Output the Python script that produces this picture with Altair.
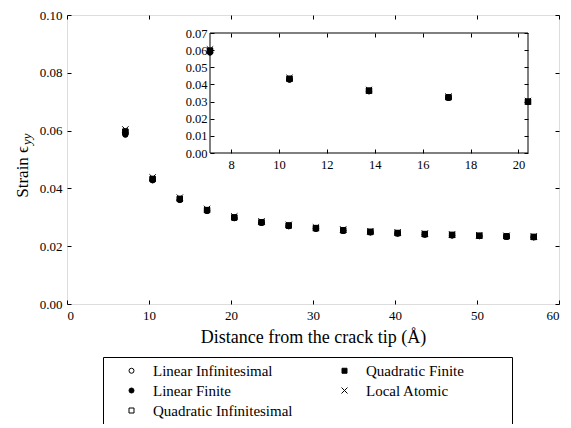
import altair as alt
import pandas as pd

# ---------------- data ----------------
X = [7.12, 10.44, 13.76, 17.08, 20.40, 23.72, 27.04, 30.36, 33.68, 37.00,
     40.32, 43.64, 46.96, 50.28, 53.60, 56.92]
LIN_INF = [0.0588, 0.0429, 0.0361, 0.0323, 0.0298, 0.0281, 0.0270, 0.0261,
           0.0254, 0.0248, 0.0244, 0.0241, 0.0238, 0.0235, 0.0233, 0.0231]
LIN_FIN = [0.0586, 0.0428, 0.0360, 0.0322, 0.0297, 0.0281, 0.0269, 0.0260,
           0.0253, 0.0248, 0.0244, 0.0240, 0.0237, 0.0235, 0.0233, 0.0231]
QUAD_INF = [0.0597, 0.0433, 0.0364, 0.0325, 0.0300, 0.0283, 0.0272, 0.0263,
            0.0255, 0.0250, 0.0246, 0.0242, 0.0239, 0.0236, 0.0234, 0.0232]
QUAD_FIN = [0.0596, 0.0432, 0.0363, 0.0325, 0.0299, 0.0283, 0.0271, 0.0262,
            0.0255, 0.0249, 0.0245, 0.0242, 0.0239, 0.0236, 0.0234, 0.0232]
LOCAL = [0.0604, 0.0438, 0.0368, 0.0329, 0.0303, 0.0286, 0.0274, 0.0265,
         0.0258, 0.0252, 0.0248, 0.0244, 0.0241, 0.0238, 0.0236, 0.0234]

SERIES = ["Linear Infinitesimal", "Linear Finite", "Quadratic Infinitesimal",
          "Quadratic Finite", "Local Atomic"]
VALUES = [LIN_INF, LIN_FIN, QUAD_INF, QUAD_FIN, LOCAL]
SHAPES = ["circle", "circle", "square", "square", "M-1.2,-1.2L1.2,1.2M-1.2,1.2L1.2,-1.2"]
FILLS = ["transparent", "black", "transparent", "black", "transparent"]
STROKES = ["black", "black", "black", "black", "black"]

MAIN_X_TICKS = [0, 10, 20, 30, 40, 50, 60]
MAIN_Y_TICKS = [0.00, 0.02, 0.04, 0.06, 0.08, 0.10]
INSET_N = 5
INSET_X_TICKS = [8, 10, 12, 14, 16, 18, 20]
INSET_Y_TICKS = [0.00, 0.01, 0.02, 0.03, 0.04, 0.05, 0.06, 0.07]

X_TITLE = "Distance from the crack tip (Å)"
Y_TITLE = "Strain ϵ"
Y_TITLE_SUB = "yy"

# ---------------- layout ----------------
W, H = 492, 289
INSET_L, INSET_R = 143, 461
INSET_T, INSET_B = 18, 138
FONT = "Liberation Serif"
TICK = 4

rows = []
for name, vals in zip(SERIES, VALUES):
    for i, (x, y) in enumerate(zip(X, vals)):
        rows.append({"series": name, "x": x, "y": y, "i": i})
df = pd.DataFrame(rows)
inset_df = df[df["i"] < INSET_N].reset_index(drop=True)
frame_df = pd.DataFrame({"x": [X[0]], "x2": [X[INSET_N - 1]],
                         "y": [INSET_Y_TICKS[0]], "y2": [INSET_Y_TICKS[-1]]})

label_axis = dict(grid=False, domain=False, ticks=False, tickSize=0,
                  labelFont=FONT, labelColor="black")
tick_axis = dict(grid=False, domain=False, labels=False, ticks=True, tickSize=TICK,
                 tickColor="black", tickWidth=1, title=None)

# invisible (white) spacer title on the right widens the legend box like the reference
leg = alt.Legend(title=".", titleOrient="right", titleColor="white", titleFont=FONT,
                 titleFontSize=15, titlePadding=38,
                 orient="none", legendX=36, legendY=342, columns=2,
                 labelFont=FONT, labelFontSize=15, labelColor="black",
                 strokeColor="black", fillColor="white", padding=6,
                 symbolOffset=15, labelOffset=14, columnPadding=29, rowPadding=4,
                 symbolStrokeWidth=1, symbolSize=25)


def style_encodings(legend):
    return dict(
        shape=alt.Shape("series:N", legend=legend, scale=alt.Scale(domain=SERIES, range=SHAPES)),
        fill=alt.Fill("series:N", legend=legend, scale=alt.Scale(domain=SERIES, range=FILLS)),
        stroke=alt.Stroke("series:N", legend=legend, scale=alt.Scale(domain=SERIES, range=STROKES)),
    )


main_xscale = alt.Scale(domain=[MAIN_X_TICKS[0], MAIN_X_TICKS[-1]], nice=False, zero=False)
main_yscale = alt.Scale(domain=[MAIN_Y_TICKS[0], MAIN_Y_TICKS[-1]], nice=False, zero=False)

main_pts = alt.Chart(df).mark_point(size=28, strokeWidth=1, opacity=1).encode(
    x=alt.X("x:Q", scale=main_xscale,
            axis=alt.Axis(orient="bottom", values=MAIN_X_TICKS, format="d",
                          labelPadding=5, labelFontSize=13, title=X_TITLE,
                          titleFont=FONT, titleFontSize=18, titleFontWeight="normal",
                          titleColor="black", titlePadding=6, **label_axis)),
    y=alt.Y("y:Q", scale=main_yscale,
            axis=alt.Axis(orient="left", values=MAIN_Y_TICKS, format=".2f",
                          labelPadding=5, labelFontSize=13, title=None, **label_axis)),
    **style_encodings(leg),
)

# inward ticks of the main frame: axes placed on the opposite side
main_t1 = alt.Chart(df).mark_point(opacity=0).encode(
    x=alt.X("x:Q", scale=main_xscale,
            axis=alt.Axis(orient="top", values=MAIN_X_TICKS, offset=-H, **tick_axis)),
    y=alt.Y("y:Q", scale=main_yscale,
            axis=alt.Axis(orient="right", values=MAIN_Y_TICKS, offset=-W, **tick_axis)),
)
main_t2 = alt.Chart(df).mark_point(opacity=0).encode(
    x=alt.X("x:Q", scale=main_xscale,
            axis=alt.Axis(orient="bottom", values=MAIN_X_TICKS, offset=-H, **tick_axis)),
    y=alt.Y("y:Q", scale=main_yscale,
            axis=alt.Axis(orient="left", values=MAIN_Y_TICKS, offset=-W, **tick_axis)),
)

in_xscale = alt.Scale(domain=[X[0], X[INSET_N - 1]], range=[INSET_L, INSET_R],
                      nice=False, zero=False)
in_yscale = alt.Scale(domain=[INSET_Y_TICKS[0], INSET_Y_TICKS[-1]], range=[INSET_B, INSET_T],
                      nice=False, zero=False)

inset_frame = alt.Chart(frame_df).mark_rect(fill="white", stroke="black", strokeWidth=1).encode(
    x=alt.X("x:Q", scale=in_xscale,
            axis=alt.Axis(orient="top", values=INSET_X_TICKS, offset=-INSET_B, zindex=1, **tick_axis)),
    x2="x2:Q",
    y=alt.Y("y:Q", scale=in_yscale,
            axis=alt.Axis(orient="right", values=INSET_Y_TICKS, offset=INSET_L - W, zindex=1, **tick_axis)),
    y2="y2:Q",
)
inset_t2 = alt.Chart(frame_df).mark_rect(opacity=0).encode(
    x=alt.X("x:Q", scale=in_xscale,
            axis=alt.Axis(orient="bottom", values=INSET_X_TICKS, offset=INSET_T - H, zindex=1, **tick_axis)),
    x2="x2:Q",
    y=alt.Y("y:Q", scale=in_yscale,
            axis=alt.Axis(orient="left", values=INSET_Y_TICKS, offset=-INSET_R, zindex=1, **tick_axis)),
    y2="y2:Q",
)

inset_pts = alt.Chart(inset_df).mark_point(size=28, strokeWidth=1, opacity=1).encode(
    x=alt.X("x:Q", scale=in_xscale,
            axis=alt.Axis(orient="bottom", values=INSET_X_TICKS, format="d",
                          offset=INSET_B - H, labelPadding=5, labelFontSize=12.5,
                          zindex=1, title=None, **label_axis)),
    y=alt.Y("y:Q", scale=in_yscale,
            axis=alt.Axis(orient="left", values=INSET_Y_TICKS, format=".2f",
                          offset=-INSET_L, labelPadding=3, labelFontSize=12.5,
                          zindex=1, title=None, **label_axis)),
    **style_encodings(None),
)

ytitle = alt.Chart(pd.DataFrame({"t": [Y_TITLE]})).mark_text(
    angle=270, align="right", baseline="alphabetic", font=FONT, fontSize=17, color="black"
).encode(text="t:N", x=alt.value(-39), y=alt.value(131))

ytitle_sub = alt.Chart(pd.DataFrame({"t": [Y_TITLE_SUB]})).mark_text(
    angle=270, align="left", baseline="alphabetic", font=FONT, fontSize=13,
    fontStyle="italic", color="black", dx=1, dy=3
).encode(text="t:N", x=alt.value(-39), y=alt.value(131))

chart = alt.layer(main_pts, main_t1, main_t2, inset_frame, inset_t2, inset_pts,
                  ytitle, ytitle_sub).resolve_scale(
    x="independent", y="independent", shape="independent", fill="independent",
    stroke="independent"
).properties(
    width=W, height=H,
    autosize=alt.AutoSizeParams(type="none"),
    padding={"left": 59, "top": 7, "right": 4, "bottom": 120},
).configure_view(stroke="black", strokeWidth=1).configure(
    background="white", font=FONT
).configure_axis(labelFont=FONT, titleFont=FONT).configure_legend(labelFont=FONT)

chart.save("out.html", embed_options={"renderer": "svg", "actions": False})
